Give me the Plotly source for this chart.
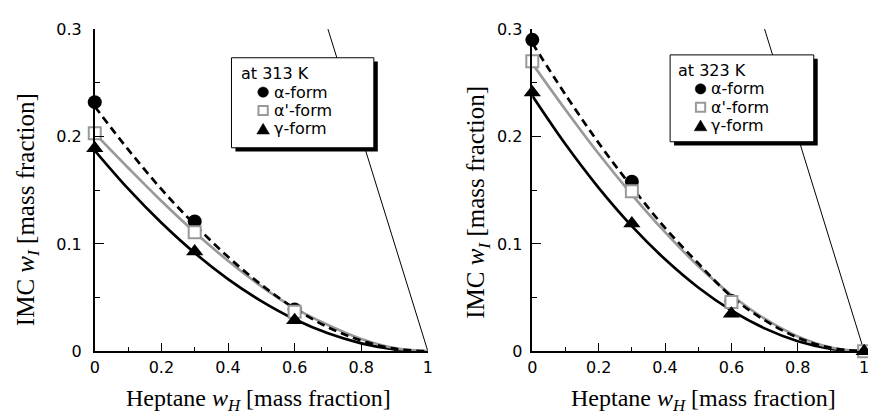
import plotly.graph_objects as go

# ---------------- data ----------------
fit_x = [0.0, 0.1, 0.2, 0.3, 0.4, 0.5, 0.6, 0.7, 0.8, 0.9, 1.0]

# 313 K
pts313_x = [0.0, 0.3, 0.6]
alpha313 = [0.232, 0.121, 0.039]
alphap313 = [0.203, 0.111, 0.037]
gamma313 = [0.189, 0.093, 0.029]
alpha313_fit = [0.228, 0.188, 0.151, 0.118, 0.088, 0.062, 0.0400, 0.0225, 0.0100, 0.0025, 0.0]
alphap313_fit = [0.203, 0.171, 0.140, 0.111, 0.0844, 0.0606, 0.0402, 0.0245, 0.0115, 0.0030, 0.0]
gamma313_fit = [0.187, 0.1515, 0.1197, 0.0916, 0.0673, 0.0468, 0.0299, 0.0168, 0.0075, 0.0019, 0.0]

# 323 K
alpha323_x = [0.0, 0.3, 0.6]
alpha323 = [0.290, 0.158, 0.047]
pts323_x = [0.0, 0.3, 0.6, 1.0]
alphap323 = [0.270, 0.149, 0.046, 0.0]
gamma323 = [0.241, 0.119, 0.035, 0.0]
alpha323_fit = [0.287, 0.239, 0.194, 0.153, 0.115, 0.082, 0.051, 0.029, 0.0128, 0.0032, 0.0]
alphap323_fit = [0.268, 0.225, 0.184, 0.146, 0.111, 0.0795, 0.0525, 0.0304, 0.0139, 0.0036, 0.0]
gamma323_fit = [0.238, 0.1928, 0.1523, 0.1166, 0.0857, 0.0595, 0.0381, 0.0214, 0.0095, 0.0024, 0.0]

# straight line
tie_x = [0.7, 1.0]
tie_y = [0.3, 0.0]

legend_labels = ["α-form", "α'-form", "γ-form"]
temps = ["at 313 K", "at 323 K"]
x_title = "Heptane <i>w<sub>H</sub></i> [mass fraction]"
y_title = "IMC <i>w<sub>I</sub></i> [mass fraction]"

# ---------------- layout helpers ----------------
W, H = 876, 418
OFF = 8  # page body margin
def PX(x):
    return (x - OFF) / W
def PY(y):
    return 1 - (y - OFF) / H

BLACK = "#000000"
GRAY = "#999999"
SANS = "DejaVu Sans"
SERIF = "Liberation Serif"

fig = go.Figure()

def add_panel(xa, ya, alpha_x, alpha_y, ap_x, ap_y, g_x, g_y, a_fit, ap_fit, g_fit):
    common = dict(xaxis=xa, yaxis=ya, showlegend=False, cliponaxis=False, hoverinfo="skip")
    fig.add_trace(go.Scatter(x=tie_x, y=tie_y, mode="lines", line=dict(color=BLACK, width=1), **common))
    fig.add_trace(go.Scatter(x=fit_x, y=g_fit, mode="lines", line=dict(color=BLACK, width=2.7, shape="spline"), **common))
    fig.add_trace(go.Scatter(x=fit_x, y=ap_fit, mode="lines", line=dict(color=GRAY, width=2.7, shape="spline"), **common))
    fig.add_trace(go.Scatter(x=fit_x, y=a_fit, mode="lines", line=dict(color=BLACK, width=2.7, dash="8px,5px", shape="spline"), **common))
    fig.add_trace(go.Scatter(x=alpha_x, y=alpha_y, mode="markers",
                             marker=dict(symbol="circle", size=14, color=BLACK), **common))
    fig.add_trace(go.Scatter(x=ap_x, y=ap_y, mode="markers",
                             marker=dict(symbol="square", size=12, color="white", line=dict(color=GRAY, width=2)), **common))
    fig.add_trace(go.Scatter(x=g_x, y=g_y, mode="markers",
                             marker=dict(symbol="triangle-up", size=15, color=BLACK), **common))

add_panel("x", "y", pts313_x, alpha313, pts313_x, alphap313, pts313_x, gamma313,
          alpha313_fit, alphap313_fit, gamma313_fit)
add_panel("x2", "y2", alpha323_x, alpha323, pts323_x, alphap323, pts323_x, gamma323,
          alpha323_fit, alphap323_fit, gamma323_fit)

def xaxis_cfg(d0, d1, anchor):
    return dict(domain=[PX(d0), PX(d1)], range=[0, 1], anchor=anchor,
                tickmode="linear", tick0=0, dtick=0.2, ticks="inside", ticklen=9, tickwidth=1.3,
                tickcolor=BLACK, minor=dict(dtick=0.1, ticks="inside", ticklen=5, tickwidth=1.3, tickcolor=BLACK),
                showline=True, linecolor=BLACK, linewidth=1.5, showgrid=False, zeroline=False,
                tickfont=dict(family=SANS, size=16, color=BLACK), ticklabelstandoff=1)

def yaxis_cfg(anchor, standoff):
    return dict(domain=[PY(358.3), PY(20.7)], range=[0, 0.3], anchor=anchor,
                tickmode="linear", tick0=0, dtick=0.1, ticks="inside", ticklen=9, tickwidth=1.3,
                tickcolor=BLACK, minor=dict(dtick=0.05, ticks="inside", ticklen=5, tickwidth=1.3, tickcolor=BLACK),
                showline=True, linecolor=BLACK, linewidth=1.5, showgrid=False, zeroline=False,
                tickfont=dict(family=SANS, size=16, color=BLACK), ticklabelstandoff=standoff)

shapes = []
annotations = []

def legend(box_l, box_t, box_r, box_b, title, title_y, sym_x, item_ys, text_x, title_x):
    shapes.append(dict(type="rect", xref="paper", yref="paper",
                       x0=PX(box_l + 4), x1=PX(box_r + 4), y0=PY(box_b + 4), y1=PY(box_t + 4),
                       fillcolor=BLACK, line=dict(width=0), layer="above"))
    shapes.append(dict(type="rect", xref="paper", yref="paper",
                       x0=PX(box_l), x1=PX(box_r), y0=PY(box_b), y1=PY(box_t),
                       fillcolor="white", line=dict(color=BLACK, width=1), layer="above"))
    r = 5.4
    y0 = item_ys[0]
    shapes.append(dict(type="circle", xref="paper", yref="paper",
                       x0=PX(sym_x - r), x1=PX(sym_x + r), y0=PY(y0 + r), y1=PY(y0 - r),
                       fillcolor=BLACK, line=dict(color=BLACK, width=0.5), layer="above"))
    y1 = item_ys[1]
    s = 4.7
    shapes.append(dict(type="rect", xref="paper", yref="paper",
                       x0=PX(sym_x - s), x1=PX(sym_x + s), y0=PY(y1 + s), y1=PY(y1 - s),
                       fillcolor="white", line=dict(color=GRAY, width=2), layer="above"))
    y2 = item_ys[2]
    path = "M %.5f %.5f L %.5f %.5f L %.5f %.5f Z" % (
        PX(sym_x - 6.4), PY(y2 + 5.3), PX(sym_x + 6.4), PY(y2 + 5.3), PX(sym_x), PY(y2 - 5.9))
    shapes.append(dict(type="path", xref="paper", yref="paper", path=path,
                       fillcolor=BLACK, line=dict(color=BLACK, width=0.5), layer="above"))
    annotations.append(dict(text=title, xref="paper", yref="paper", x=PX(title_x), y=PY(title_y),
                            xanchor="left", yanchor="middle", showarrow=False, borderpad=0,
                            font=dict(family=SANS, size=16, color=BLACK)))
    for lab, yy in zip(legend_labels, item_ys):
        annotations.append(dict(text=lab, xref="paper", yref="paper", x=PX(text_x), y=PY(yy),
                                xanchor="left", yanchor="middle", showarrow=False, borderpad=0,
                                font=dict(family=SANS, size=16, color=BLACK)))

legend(229, 50.7, 373, 145, temps[0], 67.3, 261, [86.7, 106.0, 125.3], 271, 238)
legend(672.7, 47.7, 818, 138.7, temps[1], 63.8, 703.5, [83.3, 102.6, 121.9], 713.5, 680)

# axis titles
for cx, cy in [(256, 409), (706, 409)]:
    annotations.append(dict(text=x_title, xref="paper", yref="paper", x=PX(cx), y=PY(cy),
                            xanchor="center", yanchor="middle", showarrow=False, borderpad=0,
                            font=dict(family=SERIF, size=24, color=BLACK)))
for cx, cy in [(22.5, 210), (478, 202)]:
    annotations.append(dict(text=y_title, xref="paper", yref="paper", x=PX(cx), y=PY(cy),
                            xanchor="center", yanchor="middle", showarrow=False, textangle=-90, borderpad=0,
                            font=dict(family=SERIF, size=25, color=BLACK)))

fig.update_layout(
    width=W, height=H, margin=dict(l=0, r=0, t=0, b=0),
    paper_bgcolor="white", plot_bgcolor="white",
    xaxis=xaxis_cfg(90.7, 427.7, "y"),
    yaxis=yaxis_cfg("x", 8),
    xaxis2=xaxis_cfg(533.3, 869, "y2"),
    yaxis2=yaxis_cfg("x2", 5),
    shapes=shapes, annotations=annotations, showlegend=False,
)

fig.write_html("out.html")
